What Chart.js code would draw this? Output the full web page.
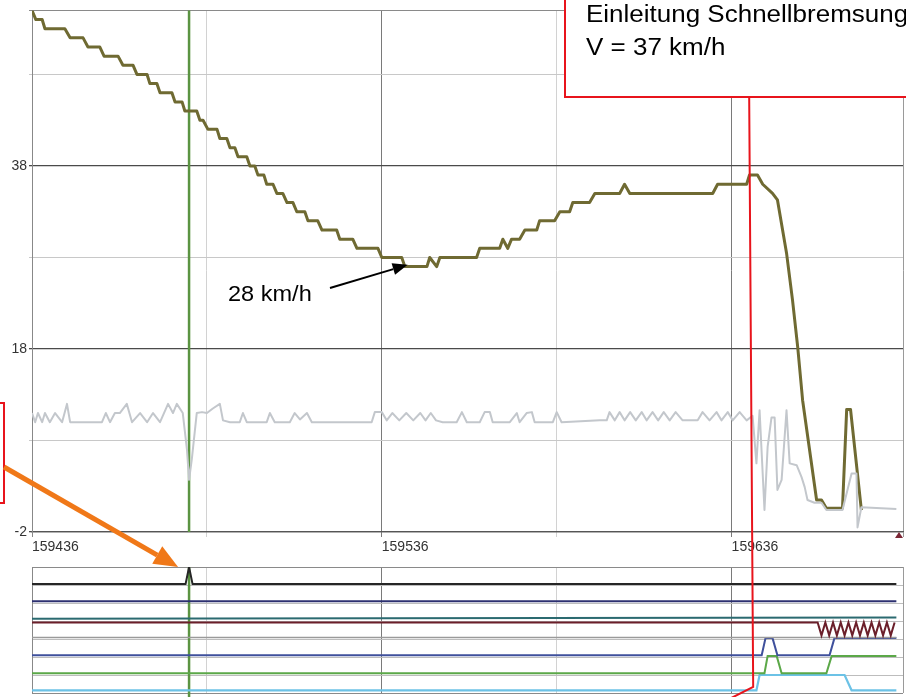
<!DOCTYPE html>
<html>
<head>
<meta charset="utf-8">
<script src="https://cdn.jsdelivr.net/npm/chart.js@4.4.0/dist/chart.umd.min.js"></script>
<style>
  body { margin: 0; background: #fff; }
  #wrap { position: relative; width: 906px; height: 697px; overflow: hidden; }
  canvas { position: absolute; left: 0; }
</style>
</head>
<body>
<div id="wrap">
  <canvas id="lanes" width="906" height="142" style="top:555px"></canvas>
  <canvas id="speed" width="906" height="697" style="top:0"></canvas>
</div>
<script>
// x axis: recorder position, offsets are counted from xBase
const xBase = 159436;
const xMaxOffset = 249;
const xTickOffsets = [0, 50, 100, 150, 200, 249];
const xLabelOffsets = [0, 100, 200];
const yTicks = [-2, 8, 18, 28, 38, 48, 55];
const yLabels = [-2, 18, 38];

const cursorOffset = 44.9;   // green cursor
const brakeOffset = 205.6;   // Einleitung Schnellbremsung
const lowOffset = 107.4;     // 28 km/h arrow tip
const lowSpeed = 27.2;

// speed trace (olive)
const speedOffsets = [0, 1.1, 2.9, 3.7, 9.4, 10.9, 14.6, 16, 19.4, 20.6, 24.6, 26, 28.9, 30, 32.9, 33.7, 35.7,
  36.6, 40, 40.9, 42.9, 43.7, 47.1, 48, 48.9, 50.3, 52.9, 53.7, 55.7, 56.6, 58, 58.9, 61.4, 62.3, 63.7,
  64.6, 66.3, 67.1, 68.9, 70, 71.7, 72.9, 74.6, 75.7, 78, 78.9, 81.7, 82.9, 87.1, 88, 91.7, 92.9, 98.9,
  100, 105.7, 106.6, 112.9, 113.7, 115.7, 116.6, 127.1, 128, 133.7, 134.6, 136, 137.1, 139.4, 140.9, 144.3,
  145.1, 149.4, 150.9, 153.7, 154.6, 159.4, 160.9, 168, 169.4, 170.9, 194.6, 196, 204.3, 205.1, 207.4,
  208.9, 211.7, 213.1, 215.7, 217.4, 218.9, 220.3, 224.3, 225.7, 227.1, 231.7, 232.9, 234, 237.1];
const speedKmh = [55, 54, 54, 53, 53, 52, 52, 51, 51, 50, 50, 49, 49, 48, 48, 47, 47,
  46, 46, 45, 45, 44, 44, 43, 43, 42, 42, 41, 41, 40, 40, 39, 39, 38, 38,
  37, 37, 36, 36, 35, 35, 34, 34, 33, 33, 32, 32, 31, 31, 30, 30, 29, 29,
  28, 28, 27, 27, 28, 27, 28, 28, 29, 29, 30, 29, 30, 30, 31, 31,
  32, 32, 33, 33, 34, 34, 35, 35, 36, 35, 35, 36, 36, 37, 37,
  36, 35, 34.3, 28.5, 23.4, 18.2, 12.4, 1.5, 1.5, 0.6, 0.6, 11.4, 11.4, 0.4];

// second trace (light grey)
const greyOffsets = [0, 0.9, 1.7, 2.9, 3.7, 5.1, 6.6, 8.6, 10, 10.9, 20, 21.1, 22.3, 23.7, 25.1, 27.1, 28.6,
  30.9, 32.9, 34.6, 36.6, 38.9, 40.3, 41.4, 43.1, 44.3, 44.9, 45.7, 47.1, 48.6, 50, 51.7, 53.7, 54.6,
  56.6, 59.4, 60.3, 61.4, 67.1, 68, 69.4, 73.7, 75.1, 76.6, 78.6, 80, 97.1, 98, 100, 101.4, 103, 105,
  107, 109, 111, 112.5, 114, 115.5, 117.4, 121.4, 122.9, 124.3, 128, 129.4, 130.9, 131.7, 136.6, 138.6,
  139.4, 141.4, 142.9, 143.7, 148.9, 150, 151.4, 162.3, 164.3, 165.1, 166.6, 168, 169.4, 171, 172.6,
  174.3, 175.7, 177.4, 179, 180.6, 182.3, 184, 186, 190.3, 191.7, 193.7, 195.7, 197.1, 198.9, 200.3,
  202.3, 204.3, 206, 207.1, 208, 209.4, 210.3, 211.4, 212.3, 213.1, 214.3, 215.7, 216.6, 218.6, 220,
  220.9, 221.7, 223.7, 225.7, 227.1, 231.7, 234.3, 235.7, 236, 237.1, 247.1];
const greyValues = [11, 10, 11, 10, 11, 10, 11, 10, 12, 10, 10, 11, 10, 11, 11, 12, 10,
  11, 10, 11, 10, 12, 11, 12, 11, 7, 3.7, 6, 11, 11.1, 11, 11.5, 12, 10.2,
  10, 10, 11, 10, 10, 11, 10, 10, 11, 10.3, 11, 10, 10, 11.1, 11.1, 10.2, 11, 10.2,
  11, 10.2, 11, 10.2, 11, 10.2, 10, 10, 11.1, 10, 10, 11.1, 11.1, 10, 10, 11,
  10, 11, 11.1, 10, 10, 11.1, 10, 10.2, 10.2, 11.1, 10.2, 11.1, 10.2, 11.1, 10.2,
  11.1, 10.2, 11.1, 10.2, 11.1, 10.2, 11.1, 10.2, 10.2, 11.1, 10.2, 11.1, 10.2, 11.1, 10.2,
  11.1, 10.2, 10.7, 5.5, 11.3, 0.4, 7.3, 10.5, 10.5, 2.6, 3.7, 11.3, 5.5, 5.3, 4,
  2.9, 1.5, 1.2, 1.2, 0.4, 0.4, 4.4, 4.4, -1.5, 0.7, 0.5];

// lower panel: digital channels (lane level 0..7)
const blackOffsets = [0, 43.9, 44.9, 45.9, 247.1];
const blackLevels = [6.05, 6.05, 7, 6.05, 6.05];
const navyOffsets = [0, 247.1];
const navyLevels = [5.1, 5.1];
const tealOffsets = [0, 247.1];
const tealLevels = [4.12, 4.2];
const maroonOffsets = [0, 224.6, 225.7, 226.8, 227.9, 229.0, 230.1, 231.2, 232.3, 233.4, 234.5, 235.6,
  236.7, 237.8, 238.9, 240.0, 241.1, 242.2, 243.3, 244.4, 245.5, 246.6];
const maroonLevels = [3.92, 3.92, 3.2, 3.92, 3.2, 3.92, 3.2, 3.92, 3.2, 3.92, 3.2, 3.92,
  3.2, 3.92, 3.2, 3.92, 3.2, 3.92, 3.2, 3.92, 3.2, 3.92];
const greyLaneOffsets = [0, 247.1];
const greyLaneLevels = [3.08, 3.08];
const blueOffsets = [0, 208.6, 209.7, 211.7, 213.1, 228, 229.4, 247.1];
const blueLevels = [2.1, 2.1, 3.05, 3.05, 2.1, 2.1, 3.05, 3.05];
const greenOffsets = [0, 209.4, 210.3, 212.9, 214.3, 227.1, 228.6, 247.1];
const greenLevels = [1.1, 1.1, 2.05, 2.05, 1.1, 1.1, 2.05, 2.05];
const skyOffsets = [0, 207.1, 208, 232.3, 234.3, 247.1];
const skyLevels = [0.15, 0.15, 1.0, 1.0, 0.15, 0.15];

const FONT = '"Liberation Sans", Arial, sans-serif';
Chart.defaults.font.family = FONT;

function pts(offs, vals) {
  return offs.map((o, i) => ({ x: xBase + o, y: vals[i] }));
}

function wideText(ctx, txt, x, y, size, sx) {
  ctx.save();
  ctx.translate(x, y);
  ctx.scale(sx, 1);
  ctx.font = size + 'px ' + FONT;
  ctx.fillStyle = '#000';
  ctx.textBaseline = 'alphabetic';
  ctx.textAlign = 'left';
  ctx.fillText(txt, 0, 0);
  ctx.restore();
}

function arrow(ctx, x1, y1, x2, y2, width, headLen, headHalf, color) {
  const ang = Math.atan2(y2 - y1, x2 - x1);
  const bx = x2 - headLen * Math.cos(ang), by = y2 - headLen * Math.sin(ang);
  ctx.save();
  ctx.strokeStyle = color;
  ctx.fillStyle = color;
  ctx.lineWidth = width;
  ctx.beginPath();
  ctx.moveTo(x1, y1);
  ctx.lineTo(bx, by);
  ctx.stroke();
  ctx.beginPath();
  ctx.moveTo(x2, y2);
  ctx.lineTo(bx + headHalf * Math.sin(ang), by - headHalf * Math.cos(ang));
  ctx.lineTo(bx - headHalf * Math.sin(ang), by + headHalf * Math.cos(ang));
  ctx.closePath();
  ctx.fill();
  ctx.restore();
}

function xGridColor(c) {
  const o = Math.round(c.tick.value - xBase);
  if (o === 100 || o === 200) return '#7a7a7a';
  if (o === 0) return '#888';
  if (o === xMaxOffset) return '#9a9a9a';
  return '#d2d2d2';
}

const cursorPlugin = {
  id: 'cursor',
  beforeDatasetsDraw(chart) {
    const { ctx, chartArea: a, scales: { x } } = chart;
    const cx = x.getPixelForValue(xBase + cursorOffset);
    ctx.save();
    ctx.strokeStyle = '#5b9442';
    ctx.lineWidth = 2.5;
    ctx.beginPath();
    ctx.moveTo(cx, a.top);
    ctx.lineTo(cx, chart.id === 1 ? chart.height : a.bottom);
    ctx.stroke();
    ctx.restore();
  }
};

const notesPlugin = {
  id: 'notes',
  afterDraw(chart) {
    const { ctx, chartArea: a, scales: { x, y } } = chart;
    ctx.save();

    // axis end marker
    ctx.fillStyle = '#7b2635';
    ctx.beginPath();
    ctx.moveTo(a.right - 4, a.bottom);
    ctx.lineTo(a.right, a.bottom + 6);
    ctx.lineTo(a.right - 8, a.bottom + 6);
    ctx.closePath();
    ctx.fill();

    // braking note box
    ctx.fillStyle = '#fff';
    ctx.fillRect(565, -4, 350, 101);
    ctx.strokeStyle = '#e8141c';
    ctx.lineWidth = 2;
    ctx.strokeRect(565, -4, 350, 101);
    wideText(ctx, 'Einleitung Schnellbremsung', 586, 22, 23, 1.13);
    wideText(ctx, 'V = 37 km/h', 586, 55, 23, 1.13);

    // pointer line down through the lower panel
    const bx = x.getPixelForValue(xBase + brakeOffset);
    ctx.beginPath();
    ctx.moveTo(bx - 2, 97);
    ctx.lineTo(bx + 2, 687);
    ctx.lineTo(bx - 22, 699);
    ctx.stroke();

    // left note box + orange arrow to the spike
    ctx.strokeRect(-10, 403, 14, 100);
    const cx = x.getPixelForValue(xBase + cursorOffset);
    arrow(ctx, 4, 467, cx - 11, 567, 5, 24, 10, '#f07818');

    // 28 km/h label and arrow
    wideText(ctx, '28 km/h', 228, 301, 22, 1.07);
    arrow(ctx, 330, 288, x.getPixelForValue(xBase + lowOffset), y.getPixelForValue(lowSpeed), 2, 15, 6, '#000');

    ctx.restore();
  }
};

// upper panel
new Chart(document.getElementById('speed'), {
  type: 'line',
  data: {
    datasets: [
      { data: pts(greyOffsets, greyValues), borderColor: '#c3c7cc', borderWidth: 2 },
      { data: pts(speedOffsets, speedKmh), borderColor: '#6f6a32', borderWidth: 3 }
    ]
  },
  options: {
    responsive: false,
    animation: false,
    devicePixelRatio: 1,
    layout: { padding: { top: 10, right: 3, left: 0, bottom: 0 } },
    elements: { point: { radius: 0 }, line: { tension: 0, borderJoinStyle: 'round' } },
    plugins: { legend: { display: false }, tooltip: { enabled: false } },
    scales: {
      x: {
        type: 'linear',
        min: xBase,
        max: xBase + xMaxOffset,
        afterBuildTicks: s => { s.ticks = xTickOffsets.map(o => ({ value: xBase + o })); },
        afterFit: s => { s.height = 165; },
        ticks: {
          autoSkip: false, maxRotation: 0, minRotation: 0, align: 'start', padding: 2,
          color: '#333', font: { size: 14 },
          callback: v => xLabelOffsets.includes(Math.round(v - xBase)) ? String(v) : ''
        },
        grid: { color: xGridColor, tickLength: 5, lineWidth: 1 },
        border: { color: '#555', width: 1.2 }
      },
      y: {
        min: -2,
        max: 55,
        afterBuildTicks: s => { s.ticks = yTicks.map(v => ({ value: v })); },
        afterFit: s => { s.width = 32; },
        ticks: {
          padding: 2, color: '#333', font: { size: 14 },
          callback: v => yLabels.includes(v) ? String(v) : ''
        },
        grid: {
          tickLength: 3,
          color: c => yLabels.includes(c.tick.value) ? '#4a4a4a' : (c.tick.value === 55 ? '#8a8a8a' : '#c8c8c8'),
          lineWidth: c => yLabels.includes(c.tick.value) ? 1.3 : 1
        },
        border: { color: '#888' }
      }
    }
  },
  plugins: [cursorPlugin, notesPlugin]
});

// lower panel
new Chart(document.getElementById('lanes'), {
  type: 'line',
  data: {
    datasets: [
      { data: pts(blackOffsets, blackLevels), borderColor: '#262626', borderWidth: 2 },
      { data: pts(navyOffsets, navyLevels), borderColor: '#2d3070', borderWidth: 2 },
      { data: pts(maroonOffsets, maroonLevels), borderColor: '#6b1f2a', borderWidth: 2 },
      { data: pts(tealOffsets, tealLevels), borderColor: '#2b6a70', borderWidth: 2 },
      { data: pts(greyLaneOffsets, greyLaneLevels), borderColor: '#9a9a9a', borderWidth: 1.5 },
      { data: pts(blueOffsets, blueLevels), borderColor: '#3f509c', borderWidth: 2 },
      { data: pts(greenOffsets, greenLevels), borderColor: '#5ba848', borderWidth: 2 },
      { data: pts(skyOffsets, skyLevels), borderColor: '#6cc2e6', borderWidth: 2.2 }
    ]
  },
  options: {
    responsive: false,
    animation: false,
    devicePixelRatio: 1,
    layout: { padding: { top: 12, right: 3, left: 0, bottom: 0 } },
    elements: { point: { radius: 0 }, line: { tension: 0 } },
    plugins: { legend: { display: false }, tooltip: { enabled: false } },
    scales: {
      x: {
        type: 'linear',
        min: xBase,
        max: xBase + xMaxOffset,
        afterBuildTicks: s => { s.ticks = xTickOffsets.map(o => ({ value: xBase + o })); },
        afterFit: s => { s.height = 4; },
        ticks: { display: false },
        grid: { color: xGridColor, drawTicks: false },
        border: { display: false }
      },
      y: {
        min: 0,
        max: 7,
        afterBuildTicks: s => { s.ticks = [0, 1, 2, 3, 4, 5, 6, 7].map(v => ({ value: v })); },
        afterFit: s => { s.width = 32; },
        ticks: { display: false },
        grid: { drawTicks: false, color: c => (c.tick.value === 7 || c.tick.value === 0) ? '#8a8a8a' : '#bdbdbd' },
        border: { color: '#888' }
      }
    }
  },
  plugins: [cursorPlugin]
});
</script>
</body>
</html>
